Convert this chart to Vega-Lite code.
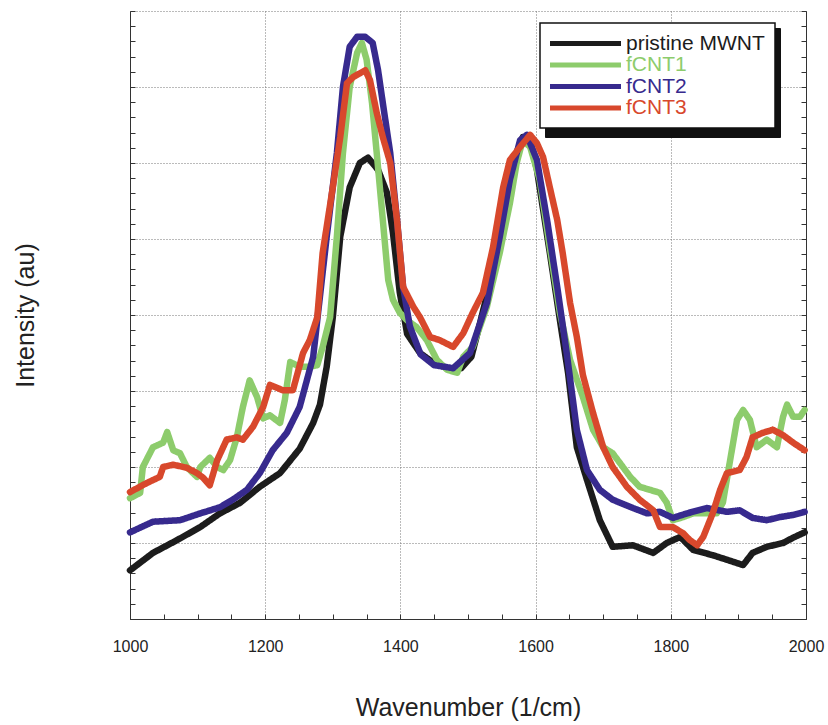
{
  "$schema": "https://vega.github.io/schema/vega-lite/v6.json",
  "width": 676,
  "height": 608,
  "autosize": "none",
  "padding": {"left": 130, "top": 11, "right": 22, "bottom": 106},
  "background": "white",
  "config": {
    "view": {"stroke": null},
    "font": "Liberation Sans"
  },
  "data": {
    "values": [
      {"s": "pristine MWNT", "w": 1000, "v": 0.64}, {"s": "pristine MWNT", "w": 1034, "v": 0.87}, {"s": "pristine MWNT", "w": 1070, "v": 1.04},
      {"s": "pristine MWNT", "w": 1104, "v": 1.21}, {"s": "pristine MWNT", "w": 1133, "v": 1.39}, {"s": "pristine MWNT", "w": 1163, "v": 1.53},
      {"s": "pristine MWNT", "w": 1192, "v": 1.74}, {"s": "pristine MWNT", "w": 1222, "v": 1.92}, {"s": "pristine MWNT", "w": 1251, "v": 2.24},
      {"s": "pristine MWNT", "w": 1271, "v": 2.58}, {"s": "pristine MWNT", "w": 1281, "v": 2.82}, {"s": "pristine MWNT", "w": 1291, "v": 3.32},
      {"s": "pristine MWNT", "w": 1300, "v": 3.97}, {"s": "pristine MWNT", "w": 1311, "v": 5.03}, {"s": "pristine MWNT", "w": 1325, "v": 5.68},
      {"s": "pristine MWNT", "w": 1340, "v": 6.0}, {"s": "pristine MWNT", "w": 1352, "v": 6.07}, {"s": "pristine MWNT", "w": 1367, "v": 5.91},
      {"s": "pristine MWNT", "w": 1380, "v": 5.61}, {"s": "pristine MWNT", "w": 1389, "v": 5.08}, {"s": "pristine MWNT", "w": 1399, "v": 4.3},
      {"s": "pristine MWNT", "w": 1410, "v": 3.75}, {"s": "pristine MWNT", "w": 1429, "v": 3.5}, {"s": "pristine MWNT", "w": 1449, "v": 3.37},
      {"s": "pristine MWNT", "w": 1470, "v": 3.3}, {"s": "pristine MWNT", "w": 1490, "v": 3.3}, {"s": "pristine MWNT", "w": 1505, "v": 3.45},
      {"s": "pristine MWNT", "w": 1518, "v": 3.9}, {"s": "pristine MWNT", "w": 1537, "v": 4.59}, {"s": "pristine MWNT", "w": 1552, "v": 5.25},
      {"s": "pristine MWNT", "w": 1566, "v": 6.0}, {"s": "pristine MWNT", "w": 1581, "v": 6.34}, {"s": "pristine MWNT", "w": 1592, "v": 6.3},
      {"s": "pristine MWNT", "w": 1602, "v": 5.91}, {"s": "pristine MWNT", "w": 1621, "v": 4.82}, {"s": "pristine MWNT", "w": 1636, "v": 3.93},
      {"s": "pristine MWNT", "w": 1648, "v": 3.24}, {"s": "pristine MWNT", "w": 1661, "v": 2.26}, {"s": "pristine MWNT", "w": 1676, "v": 1.83},
      {"s": "pristine MWNT", "w": 1695, "v": 1.3}, {"s": "pristine MWNT", "w": 1714, "v": 0.95}, {"s": "pristine MWNT", "w": 1744, "v": 0.97},
      {"s": "pristine MWNT", "w": 1774, "v": 0.87}, {"s": "pristine MWNT", "w": 1794, "v": 1.0}, {"s": "pristine MWNT", "w": 1814, "v": 1.08},
      {"s": "pristine MWNT", "w": 1833, "v": 0.91}, {"s": "pristine MWNT", "w": 1862, "v": 0.84}, {"s": "pristine MWNT", "w": 1883, "v": 0.78},
      {"s": "pristine MWNT", "w": 1907, "v": 0.71}, {"s": "pristine MWNT", "w": 1921, "v": 0.87}, {"s": "pristine MWNT", "w": 1942, "v": 0.95},
      {"s": "pristine MWNT", "w": 1966, "v": 1.0}, {"s": "pristine MWNT", "w": 1981, "v": 1.07}, {"s": "pristine MWNT", "w": 1998, "v": 1.14},

      {"s": "fCNT1", "w": 1000, "v": 1.59}, {"s": "fCNT1", "w": 1015, "v": 1.66}, {"s": "fCNT1", "w": 1019, "v": 2.0},
      {"s": "fCNT1", "w": 1034, "v": 2.26}, {"s": "fCNT1", "w": 1049, "v": 2.32}, {"s": "fCNT1", "w": 1055, "v": 2.46},
      {"s": "fCNT1", "w": 1064, "v": 2.22}, {"s": "fCNT1", "w": 1074, "v": 2.18}, {"s": "fCNT1", "w": 1084, "v": 2.0},
      {"s": "fCNT1", "w": 1099, "v": 1.87}, {"s": "fCNT1", "w": 1104, "v": 2.0}, {"s": "fCNT1", "w": 1118, "v": 2.12},
      {"s": "fCNT1", "w": 1129, "v": 2.0}, {"s": "fCNT1", "w": 1138, "v": 1.96}, {"s": "fCNT1", "w": 1148, "v": 2.09},
      {"s": "fCNT1", "w": 1158, "v": 2.39}, {"s": "fCNT1", "w": 1167, "v": 2.79}, {"s": "fCNT1", "w": 1177, "v": 3.14},
      {"s": "fCNT1", "w": 1188, "v": 2.92}, {"s": "fCNT1", "w": 1197, "v": 2.64}, {"s": "fCNT1", "w": 1207, "v": 2.68},
      {"s": "fCNT1", "w": 1222, "v": 2.58}, {"s": "fCNT1", "w": 1229, "v": 2.88}, {"s": "fCNT1", "w": 1237, "v": 3.38},
      {"s": "fCNT1", "w": 1251, "v": 3.32}, {"s": "fCNT1", "w": 1266, "v": 3.32}, {"s": "fCNT1", "w": 1277, "v": 3.34},
      {"s": "fCNT1", "w": 1285, "v": 3.58}, {"s": "fCNT1", "w": 1296, "v": 3.97}, {"s": "fCNT1", "w": 1306, "v": 5.03},
      {"s": "fCNT1", "w": 1315, "v": 6.13}, {"s": "fCNT1", "w": 1325, "v": 7.0}, {"s": "fCNT1", "w": 1336, "v": 7.45},
      {"s": "fCNT1", "w": 1343, "v": 7.58}, {"s": "fCNT1", "w": 1350, "v": 7.36}, {"s": "fCNT1", "w": 1358, "v": 6.79},
      {"s": "fCNT1", "w": 1365, "v": 6.13}, {"s": "fCNT1", "w": 1374, "v": 5.25}, {"s": "fCNT1", "w": 1382, "v": 4.46},
      {"s": "fCNT1", "w": 1389, "v": 4.2}, {"s": "fCNT1", "w": 1399, "v": 4.03}, {"s": "fCNT1", "w": 1410, "v": 3.93},
      {"s": "fCNT1", "w": 1424, "v": 3.84}, {"s": "fCNT1", "w": 1439, "v": 3.67}, {"s": "fCNT1", "w": 1454, "v": 3.41},
      {"s": "fCNT1", "w": 1469, "v": 3.28}, {"s": "fCNT1", "w": 1484, "v": 3.24}, {"s": "fCNT1", "w": 1493, "v": 3.45},
      {"s": "fCNT1", "w": 1507, "v": 3.58}, {"s": "fCNT1", "w": 1528, "v": 4.11}, {"s": "fCNT1", "w": 1547, "v": 4.82},
      {"s": "fCNT1", "w": 1562, "v": 5.47}, {"s": "fCNT1", "w": 1572, "v": 6.0}, {"s": "fCNT1", "w": 1581, "v": 6.3},
      {"s": "fCNT1", "w": 1592, "v": 6.21}, {"s": "fCNT1", "w": 1606, "v": 5.78}, {"s": "fCNT1", "w": 1621, "v": 4.89},
      {"s": "fCNT1", "w": 1636, "v": 4.03}, {"s": "fCNT1", "w": 1651, "v": 3.41}, {"s": "fCNT1", "w": 1670, "v": 2.92},
      {"s": "fCNT1", "w": 1685, "v": 2.49}, {"s": "fCNT1", "w": 1700, "v": 2.26}, {"s": "fCNT1", "w": 1714, "v": 2.18},
      {"s": "fCNT1", "w": 1725, "v": 2.05}, {"s": "fCNT1", "w": 1740, "v": 1.87}, {"s": "fCNT1", "w": 1754, "v": 1.74},
      {"s": "fCNT1", "w": 1769, "v": 1.7}, {"s": "fCNT1", "w": 1784, "v": 1.66}, {"s": "fCNT1", "w": 1794, "v": 1.53},
      {"s": "fCNT1", "w": 1803, "v": 1.3}, {"s": "fCNT1", "w": 1818, "v": 1.34}, {"s": "fCNT1", "w": 1833, "v": 1.39},
      {"s": "fCNT1", "w": 1853, "v": 1.39}, {"s": "fCNT1", "w": 1868, "v": 1.39}, {"s": "fCNT1", "w": 1877, "v": 1.53},
      {"s": "fCNT1", "w": 1887, "v": 2.05}, {"s": "fCNT1", "w": 1898, "v": 2.62}, {"s": "fCNT1", "w": 1907, "v": 2.75},
      {"s": "fCNT1", "w": 1917, "v": 2.62}, {"s": "fCNT1", "w": 1927, "v": 2.26}, {"s": "fCNT1", "w": 1942, "v": 2.36},
      {"s": "fCNT1", "w": 1957, "v": 2.26}, {"s": "fCNT1", "w": 1966, "v": 2.66}, {"s": "fCNT1", "w": 1972, "v": 2.82},
      {"s": "fCNT1", "w": 1981, "v": 2.66}, {"s": "fCNT1", "w": 1991, "v": 2.66}, {"s": "fCNT1", "w": 1998, "v": 2.75},

      {"s": "fCNT2", "w": 1000, "v": 1.14}, {"s": "fCNT2", "w": 1034, "v": 1.28}, {"s": "fCNT2", "w": 1074, "v": 1.3},
      {"s": "fCNT2", "w": 1104, "v": 1.39}, {"s": "fCNT2", "w": 1133, "v": 1.47}, {"s": "fCNT2", "w": 1152, "v": 1.57},
      {"s": "fCNT2", "w": 1173, "v": 1.7}, {"s": "fCNT2", "w": 1192, "v": 1.92}, {"s": "fCNT2", "w": 1211, "v": 2.22},
      {"s": "fCNT2", "w": 1232, "v": 2.45}, {"s": "fCNT2", "w": 1251, "v": 2.79}, {"s": "fCNT2", "w": 1271, "v": 3.45},
      {"s": "fCNT2", "w": 1277, "v": 3.93}, {"s": "fCNT2", "w": 1291, "v": 5.03}, {"s": "fCNT2", "w": 1306, "v": 6.13},
      {"s": "fCNT2", "w": 1315, "v": 7.0}, {"s": "fCNT2", "w": 1325, "v": 7.53}, {"s": "fCNT2", "w": 1336, "v": 7.66},
      {"s": "fCNT2", "w": 1348, "v": 7.66}, {"s": "fCNT2", "w": 1359, "v": 7.58}, {"s": "fCNT2", "w": 1367, "v": 7.22},
      {"s": "fCNT2", "w": 1374, "v": 6.79}, {"s": "fCNT2", "w": 1385, "v": 6.13}, {"s": "fCNT2", "w": 1395, "v": 5.25},
      {"s": "fCNT2", "w": 1404, "v": 4.37}, {"s": "fCNT2", "w": 1414, "v": 3.85}, {"s": "fCNT2", "w": 1430, "v": 3.48},
      {"s": "fCNT2", "w": 1450, "v": 3.34}, {"s": "fCNT2", "w": 1478, "v": 3.3}, {"s": "fCNT2", "w": 1503, "v": 3.5},
      {"s": "fCNT2", "w": 1528, "v": 4.16}, {"s": "fCNT2", "w": 1547, "v": 5.03}, {"s": "fCNT2", "w": 1562, "v": 5.78},
      {"s": "fCNT2", "w": 1577, "v": 6.3}, {"s": "fCNT2", "w": 1587, "v": 6.37}, {"s": "fCNT2", "w": 1602, "v": 6.04},
      {"s": "fCNT2", "w": 1617, "v": 5.25}, {"s": "fCNT2", "w": 1632, "v": 4.37}, {"s": "fCNT2", "w": 1646, "v": 3.5},
      {"s": "fCNT2", "w": 1661, "v": 2.49}, {"s": "fCNT2", "w": 1676, "v": 1.96}, {"s": "fCNT2", "w": 1695, "v": 1.7},
      {"s": "fCNT2", "w": 1714, "v": 1.57}, {"s": "fCNT2", "w": 1744, "v": 1.46}, {"s": "fCNT2", "w": 1765, "v": 1.39},
      {"s": "fCNT2", "w": 1784, "v": 1.41}, {"s": "fCNT2", "w": 1803, "v": 1.33}, {"s": "fCNT2", "w": 1824, "v": 1.39},
      {"s": "fCNT2", "w": 1853, "v": 1.46}, {"s": "fCNT2", "w": 1883, "v": 1.41}, {"s": "fCNT2", "w": 1902, "v": 1.43},
      {"s": "fCNT2", "w": 1921, "v": 1.33}, {"s": "fCNT2", "w": 1942, "v": 1.3}, {"s": "fCNT2", "w": 1961, "v": 1.34},
      {"s": "fCNT2", "w": 1981, "v": 1.37}, {"s": "fCNT2", "w": 1998, "v": 1.41},

      {"s": "fCNT3", "w": 1000, "v": 1.67}, {"s": "fCNT3", "w": 1025, "v": 1.79}, {"s": "fCNT3", "w": 1044, "v": 1.87},
      {"s": "fCNT3", "w": 1049, "v": 2.0}, {"s": "fCNT3", "w": 1064, "v": 2.03}, {"s": "fCNT3", "w": 1084, "v": 1.99},
      {"s": "fCNT3", "w": 1099, "v": 1.92}, {"s": "fCNT3", "w": 1108, "v": 1.86}, {"s": "fCNT3", "w": 1118, "v": 1.76},
      {"s": "fCNT3", "w": 1129, "v": 2.09}, {"s": "fCNT3", "w": 1143, "v": 2.36}, {"s": "fCNT3", "w": 1158, "v": 2.39},
      {"s": "fCNT3", "w": 1167, "v": 2.36}, {"s": "fCNT3", "w": 1182, "v": 2.53}, {"s": "fCNT3", "w": 1197, "v": 2.79},
      {"s": "fCNT3", "w": 1207, "v": 3.08}, {"s": "fCNT3", "w": 1226, "v": 3.01}, {"s": "fCNT3", "w": 1241, "v": 3.01},
      {"s": "fCNT3", "w": 1256, "v": 3.5}, {"s": "fCNT3", "w": 1266, "v": 3.67}, {"s": "fCNT3", "w": 1277, "v": 3.97},
      {"s": "fCNT3", "w": 1285, "v": 4.82}, {"s": "fCNT3", "w": 1300, "v": 5.68}, {"s": "fCNT3", "w": 1311, "v": 6.34},
      {"s": "fCNT3", "w": 1321, "v": 7.05}, {"s": "fCNT3", "w": 1330, "v": 7.13}, {"s": "fCNT3", "w": 1340, "v": 7.18},
      {"s": "fCNT3", "w": 1348, "v": 7.22}, {"s": "fCNT3", "w": 1355, "v": 7.09}, {"s": "fCNT3", "w": 1365, "v": 6.66},
      {"s": "fCNT3", "w": 1374, "v": 6.34}, {"s": "fCNT3", "w": 1385, "v": 6.0}, {"s": "fCNT3", "w": 1395, "v": 5.25},
      {"s": "fCNT3", "w": 1404, "v": 4.37}, {"s": "fCNT3", "w": 1419, "v": 4.11}, {"s": "fCNT3", "w": 1429, "v": 3.97},
      {"s": "fCNT3", "w": 1444, "v": 3.71}, {"s": "fCNT3", "w": 1458, "v": 3.67}, {"s": "fCNT3", "w": 1478, "v": 3.58},
      {"s": "fCNT3", "w": 1493, "v": 3.76}, {"s": "fCNT3", "w": 1507, "v": 4.03}, {"s": "fCNT3", "w": 1522, "v": 4.29},
      {"s": "fCNT3", "w": 1537, "v": 4.89}, {"s": "fCNT3", "w": 1552, "v": 5.68}, {"s": "fCNT3", "w": 1562, "v": 6.04},
      {"s": "fCNT3", "w": 1577, "v": 6.21}, {"s": "fCNT3", "w": 1592, "v": 6.37}, {"s": "fCNT3", "w": 1602, "v": 6.26},
      {"s": "fCNT3", "w": 1611, "v": 6.08}, {"s": "fCNT3", "w": 1621, "v": 5.68}, {"s": "fCNT3", "w": 1632, "v": 5.25},
      {"s": "fCNT3", "w": 1640, "v": 4.82}, {"s": "fCNT3", "w": 1651, "v": 4.16}, {"s": "fCNT3", "w": 1661, "v": 3.71},
      {"s": "fCNT3", "w": 1670, "v": 3.21}, {"s": "fCNT3", "w": 1685, "v": 2.71}, {"s": "fCNT3", "w": 1700, "v": 2.26},
      {"s": "fCNT3", "w": 1714, "v": 2.0}, {"s": "fCNT3", "w": 1735, "v": 1.74}, {"s": "fCNT3", "w": 1754, "v": 1.57},
      {"s": "fCNT3", "w": 1774, "v": 1.43}, {"s": "fCNT3", "w": 1784, "v": 1.21}, {"s": "fCNT3", "w": 1803, "v": 1.21},
      {"s": "fCNT3", "w": 1818, "v": 1.13}, {"s": "fCNT3", "w": 1828, "v": 1.04}, {"s": "fCNT3", "w": 1839, "v": 0.97},
      {"s": "fCNT3", "w": 1848, "v": 1.08}, {"s": "fCNT3", "w": 1862, "v": 1.39}, {"s": "fCNT3", "w": 1873, "v": 1.7},
      {"s": "fCNT3", "w": 1883, "v": 1.92}, {"s": "fCNT3", "w": 1902, "v": 1.96}, {"s": "fCNT3", "w": 1912, "v": 2.13},
      {"s": "fCNT3", "w": 1921, "v": 2.39}, {"s": "fCNT3", "w": 1936, "v": 2.45}, {"s": "fCNT3", "w": 1951, "v": 2.49},
      {"s": "fCNT3", "w": 1966, "v": 2.42}, {"s": "fCNT3", "w": 1981, "v": 2.32}, {"s": "fCNT3", "w": 1998, "v": 2.22}
    ]
  },
  "layer": [
    {
      "mark": {"type": "line", "strokeWidth": 6.5, "strokeJoin": "round", "strokeCap": "round"},
      "encoding": {
        "x": {
          "field": "w", "type": "quantitative",
          "scale": {"domain": [1000, 2000], "nice": false, "zero": false},
          "axis": {
            "orient": "bottom",
            "values": [1000, 1200, 1400, 1600, 1800, 2000],
            "format": "d",
            "grid": true, "gridColor": "#777", "gridDash": [1, 2], "gridWidth": 1,
            "ticks": false, "tickSize": 0,
            "domain": true, "domainColor": "#333", "domainWidth": 1,
            "labelFontSize": 16, "labelColor": "#222", "labelPadding": 19, "labelFlush": false,
            "title": "Wavenumber (1/cm)", "titleFontSize": 25, "titleFontWeight": "normal",
            "titleColor": "#222", "titlePadding": 41
          }
        },
        "y": {
          "field": "v", "type": "quantitative",
          "scale": {"domain": [0, 8], "nice": false, "zero": false},
          "axis": {
            "orient": "left",
            "values": [0, 1, 2, 3, 4, 5, 6, 7, 8],
            "grid": true, "gridColor": "#777", "gridDash": [1, 2], "gridWidth": 1,
            "ticks": false, "tickSize": 0, "labels": false,
            "domain": true, "domainColor": "#333", "domainWidth": 1,
            "title": "Intensity (au)", "titleFontSize": 25, "titleFontWeight": "normal",
            "titleColor": "#222", "titlePadding": 92
          }
        },
        "color": {
          "field": "s", "type": "nominal",
          "scale": {
            "domain": ["pristine MWNT", "fCNT1", "fCNT2", "fCNT3"],
            "range": ["#1c1c1c", "#8dcc6c", "#372a8e", "#d8482c"]
          },
          "legend": {
            "orient": "none", "legendX": 410, "legendY": 12, "title": null,
            "fillColor": "white", "strokeColor": "#111", "padding": 10,
            "symbolType": "M-2.1,0H12.1", "symbolSize": 100, "symbolStrokeWidth": 5,
            "labelFontSize": 21, "labelOffset": 55, "labelLimit": 400, "rowPadding": -0.5,
            "zindex": 2,
            "encode": {
              "labels": {"update": {"fill": {"scale": "color", "field": "value"}}},
              "legend": {"update": {"strokeWidth": {"value": 1.5}}}
            }
          }
        },
        "strokeDash": {
          "field": "s", "type": "nominal",
          "scale": {"range": [[1, 0], [1, 0], [1, 0], [1, 0]]},
          "legend": {
            "orient": "none", "legendX": 415, "legendY": 17, "title": null,
            "fillColor": "#111", "strokeColor": "#111", "padding": 10,
            "symbolType": "M-2.1,-2.2H40.9V2.2H-2.1Z", "symbolSize": 100, "symbolStrokeWidth": 0,
            "symbolFillColor": "#111",
            "labelFontSize": 21, "labelOffset": 55, "rowPadding": -0.5,
            "labelExpr": "''",
            "zindex": 1,
            "encode": {
              "symbols": {"update": {"fill": {"value": "#111"}, "opacity": {"value": 1}}}
            }
          }
        }
      }
    },
    {
      "mark": {"type": "line", "opacity": 0},
      "encoding": {
        "x": {
          "field": "w", "type": "quantitative",
          "axis": {
            "orient": "bottom",
            "values": [1000, 1050, 1100, 1150, 1200, 1250, 1300, 1350, 1400, 1450, 1500, 1550, 1600, 1650, 1700, 1750, 1800, 1850, 1900, 1950, 2000],
            "grid": false, "labels": false, "domain": false, "title": null,
            "ticks": true, "tickSize": -5, "tickColor": "#333"
          }
        },
        "y": {
          "field": "v", "type": "quantitative",
          "axis": {
            "orient": "left",
            "values": [0, 0.2, 0.4, 0.6, 0.8, 1, 1.2, 1.4, 1.6, 1.8, 2, 2.2, 2.4, 2.6, 2.8, 3, 3.2, 3.4, 3.6, 3.8, 4, 4.2, 4.4, 4.6, 4.8, 5, 5.2, 5.4, 5.6, 5.8, 6, 6.2, 6.4, 6.6, 6.8, 7, 7.2, 7.4, 7.6, 7.8, 8],
            "grid": false, "labels": false, "domain": false, "title": null,
            "ticks": true, "tickSize": -5, "tickColor": "#333"
          }
        },
        "detail": {"field": "s"}
      }
    },
    {
      "mark": {"type": "line", "opacity": 0},
      "encoding": {
        "x": {"field": "w", "type": "quantitative", "axis": null},
        "y": {
          "field": "v", "type": "quantitative",
          "axis": {
            "orient": "right",
            "values": [0, 0.2, 0.4, 0.6, 0.8, 1, 1.2, 1.4, 1.6, 1.8, 2, 2.2, 2.4, 2.6, 2.8, 3, 3.2, 3.4, 3.6, 3.8, 4, 4.2, 4.4, 4.6, 4.8, 5, 5.2, 5.4, 5.6, 5.8, 6, 6.2, 6.4, 6.6, 6.8, 7, 7.2, 7.4, 7.6, 7.8, 8],
            "grid": false, "labels": false, "domain": true, "domainColor": "#333", "title": null,
            "ticks": true, "tickSize": -5, "tickColor": "#333"
          }
        },
        "detail": {"field": "s"}
      }
    }
  ],
  "resolve": {"axis": {"x": "independent", "y": "independent"}}
}
